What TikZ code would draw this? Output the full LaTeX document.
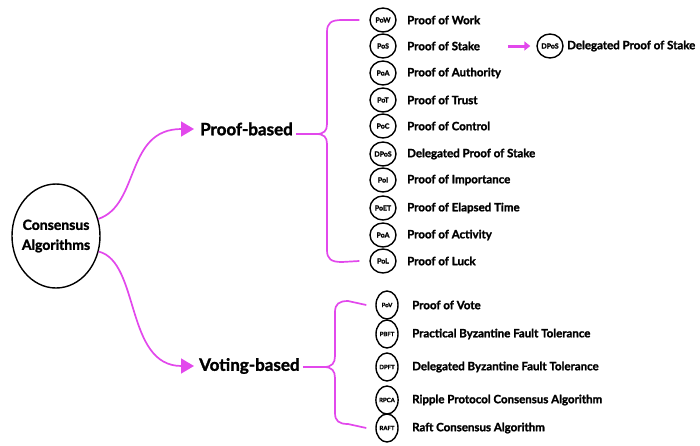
\documentclass[tikz,border=0pt]{standalone}
\usepackage{fontspec}
\setmainfont{Lato}[BoldFeatures={FakeBold=1.6}]
\usetikzlibrary{arrows.meta,calc,shapes.geometric}
\definecolor{mag}{RGB}{226,72,236}
\begin{document}
\begin{tikzpicture}[x=1pt,y=-1pt,
  link/.style={draw=mag,line width=1.7pt},
  badge/.style={ellipse,draw=black,line width=1.4pt,minimum width=26pt,minimum height=24pt,inner sep=0pt,font=\bfseries\fontsize{7}{8}\selectfont},
  vbadge/.style={badge,minimum width=22pt,minimum height=28pt,font=\bfseries\fontsize{6}{7}\selectfont},
  item/.style={anchor=west,font=\bfseries\fontsize{11.5}{13}\selectfont,inner sep=0pt},
  branch/.style={anchor=west,font=\bfseries\fontsize{17}{20}\selectfont,inner sep=0pt},
  tip/.style={-{Triangle[length=13pt,width=15pt]}}
]
\useasboundingbox (0,0) rectangle (700,445);

% root of the tree
\node[ellipse,draw,line width=1.4pt,minimum width=88pt,minimum height=104pt,inner sep=0pt] (root) at (56,236) {};
\node[align=center,inner sep=0pt,font=\bfseries\fontsize{14}{20}\selectfont] (roottxt) at (root.center) {Consensus\\Algorithms};

% the two families
\node[branch] (pb) at (200,129) {Proof-based};
\node[branch] (vb) at (199,366) {Voting-based};

\draw[link,tip,shorten >=6pt] (root.22) .. controls (140,205) and (125,129) .. (pb.west);
\draw[link,tip,shorten >=5pt] (root.-20) .. controls (140,262) and (125,366) .. (vb.west);

% proof-based algorithms
\foreach \i/\y/\ab/\txt in {
  1/20/PoW/Proof of Work,
  2/46/PoS/Proof of Stake,
  3/73/PoA/Proof of Authority,
  4/100/PoT/Proof of Trust,
  5/126/PoC/Proof of Control,
  6/154/DPoS/Delegated Proof of Stake,
  7/180/PoI/Proof of Importance,
  8/208/PoET/Proof of Elapsed Time,
  9/235/PoA/Proof of Activity,
  10/261/PoL/Proof of Luck}{
  \node[badge] (p\i) at (383,\y) {\ab};
  \node[item] (lp\i) at (407,\y) {\txt};
}

% voting-based algorithms
\foreach \i/\y/\ab/\txt in {
  1/305/PoV/Proof of Vote,
  2/334/PBFT/Practical Byzantine Fault Tolerance,
  3/367/DPFT/Delegated Byzantine Fault Tolerance,
  4/400/RPCA/Ripple Protocol Consensus Algorithm,
  5/428/RAFT/Raft Consensus Algorithm}{
  \node[vbadge] (v\i) at (387,\y) {\ab};
  \node[item] (lv\i) at (412,\y) {\txt};
}

% PoS evolves into DPoS
\coordinate (sa) at (508,46);
\node[badge] (x1) at (550,46) {DPoS};
\node[item] (lx1) at (567,46) {Delegated Proof of Stake};
\draw[mag,line width=3pt,-{Triangle[length=6pt,width=9pt]},shorten >=6pt] (sa) -- (x1.west);

% brace for proof-based
\coordinate (cb) at (316,134);
\draw[link] ($(pb.east)+(3,5)$) -- (cb);
\draw[link] (cb) .. controls (324,134) and (327,131) .. (327,124) -- (327,32)
  .. controls (327,23) and (331,20) .. (342,20) -- ($(p1.west)+(-10,0)$);
\draw[link] (cb) .. controls (324,134) and (327,137) .. (327,144) -- (327,250)
  .. controls (327,259) and (331,262) .. (342,262) -- ($(p10.west)+(-10,0)$);

% brace for voting-based
\coordinate (cv) at (324,367);
\draw[link] ($(vb.east)+(3,1)$) -- (cv);
\draw[link] (cv) .. controls (332,367) and (335,363) .. (335,356) -- (335,312)
  .. controls (335,304) and (339,301) .. (348,301) -- ($(v1.west)+(-9,0)$);
\draw[link] (cv) .. controls (332,367) and (335,371) .. (335,378) -- (335,413)
  .. controls (335,421) and (339,424) .. (348,424) -- ($(v5.west)+(-9,0)$);
\end{tikzpicture}
\end{document}
